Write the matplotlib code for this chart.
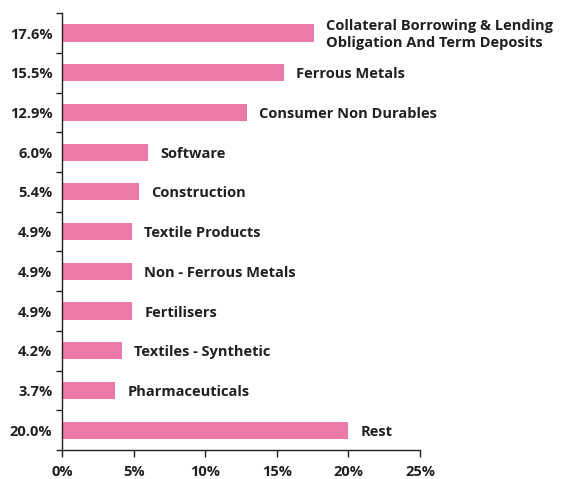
import matplotlib.pyplot as plt
from matplotlib.ticker import FuncFormatter, FixedLocator
import numpy as np

plt.rcParams['font.family'] = ['Open Sans', 'DejaVu Sans']

# Data (top to bottom)
sectors = ['Collateral Borrowing & Lending\nObligation And Term Deposits',
           'Ferrous Metals', 'Consumer Non Durables', 'Software', 'Construction',
           'Textile Products', 'Non - Ferrous Metals', 'Fertilisers',
           'Textiles - Synthetic', 'Pharmaceuticals', 'Rest']
weights = [17.6, 15.5, 12.9, 6.0, 5.4, 4.9, 4.9, 4.9, 4.2, 3.7, 20.0]

bar_color = '#EC79A9'
text_color = '#231F20'

fig = plt.figure(figsize=(5.69, 4.79), dpi=100)
ax = fig.add_axes([0.109, 0.0605, 0.629, 0.912])

y = np.arange(len(weights))[::-1]
ax.barh(y, weights, height=0.43, color=bar_color)

for yi, w, name in zip(y, weights, sectors):
    ax.text(w + 0.85, yi - 0.04, name, va='center', ha='left', fontsize=10.5,
            fontweight='bold', color=text_color, linespacing=1.25)

ax.set_ylim(-0.5, len(weights) - 0.5)
ax.set_xlim(0, 25)
ax.set_xticks([0, 5, 10, 15, 20, 25])
ax.xaxis.set_major_formatter(FuncFormatter(lambda v, p: f'{v:.0f}%'))

ax.set_yticks(y)
ax.set_yticklabels([f'{w:.1f}%' for w in weights])
ax.tick_params(axis='y', which='major', length=0, pad=7)
ax.yaxis.set_minor_locator(FixedLocator(np.arange(-0.5, len(weights), 1.0)))
ax.tick_params(axis='y', which='minor', length=4, width=1, color=text_color)
ax.tick_params(axis='x', length=5, width=1, color=text_color, pad=6)

for lbl in ax.get_xticklabels() + ax.get_yticklabels():
    lbl.set_fontsize(10.5)
    lbl.set_fontweight('bold')
    lbl.set_color(text_color)

for s in ['top', 'right']:
    ax.spines[s].set_visible(False)
for s in ['left', 'bottom']:
    ax.spines[s].set_color(text_color)
    ax.spines[s].set_linewidth(1)

fig.savefig('out.png', dpi=100)
